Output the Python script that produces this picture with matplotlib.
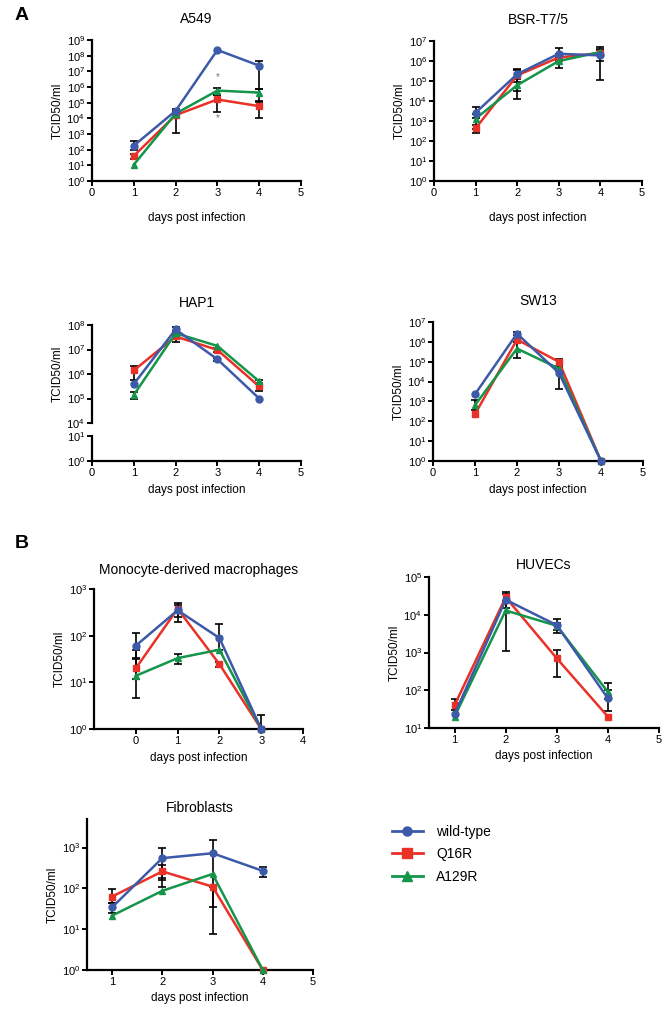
import numpy as np
import matplotlib.pyplot as plt
from matplotlib.lines import Line2D
from matplotlib.ticker import LogFormatterMathtext, NullLocator

plt.rcParams['font.family'] = ['Liberation Sans', 'DejaVu Sans']
plt.rcParams['mathtext.default'] = 'regular'

W, H = 671, 1017

series_names = ['wild-type', 'Q16R', 'A129R']
colors = ['#3c5aa8', '#ea3127', '#14954a']
markers = ['o', 's', '^']

days = [1, 2, 3, 4]
mdm_days = [0, 1, 2, 3]

# values per series: wild-type, Q16R, A129R ; None = no error bar
a549_vals = [[180, 3.0e4, 2.3e8, 2.3e7], [40, 1.6e4, 1.6e5, 6.0e4], [11, 2.0e4, 5.9e5, 4.4e5]]
a549_lo = [[100, 2.5e4, None, 7.4e5], [26, 1.1e3, 2.7e4, 1.1e4], [None, 1.5e4, 3.0e5, 1.1e5]]
a549_hi = [[380, 3.7e4, None, 4.6e7], [55, 3.0e4, 3.0e5, 1.2e5], [None, 2.5e4, 8.5e5, 7.5e5]]

bsr_vals = [[2.6e3, 2.2e5, 2.3e6, 1.9e6], [430, 1.9e5, 1.5e6, 2.5e6], [1.3e3, 6.2e4, 1.0e6, 2.8e6]]
bsr_lo = [[1.4e3, 9e4, 1.4e6, 1.1e5], [260, 3e4, 1e6, 1e6], [420, 1.2e4, 4.7e5, 2e6]]
bsr_hi = [[4.8e3, 4.2e5, 4.5e6, 3.5e6], [600, 3.5e5, 2.2e6, 5.1e6], [2.2e3, 1.2e5, 1.6e6, 3.8e6]]

hap1_vals = [[3.9e5, 6.6e7, 4.0e6, 1.0e5], [1.4e6, 3.4e7, 9.6e6, 3.1e5], [1.4e5, 4.6e7, 1.4e7, 5.0e5]]
hap1_lo = [[None, 4.5e7, 3.4e6, None], [5.5e5, 2.1e7, 8e6, 2.0e5], [9.5e4, 3.5e7, None, 4.2e5]]
hap1_hi = [[None, 8e7, 4.6e6, None], [2.2e6, 4.5e7, 1.1e7, 3.9e5], [1.8e5, 5.5e7, None, 5.8e5]]

sw13_vals = [[2.3e3, 2.6e6, 2.7e4, 1], [230, 1.3e6, 9.8e4, 1], [650, 4.6e5, 4.5e4, 1]]
sw13_lo = [[None, 2.2e6, 4e3, None], [None, 1.0e6, 6e4, None], [350, 1.6e5, 3.5e4, None]]
sw13_hi = [[None, 3.0e6, 5e4, None], [None, 1.6e6, 1.4e5, None], [1.25e3, 1.0e6, 5.5e4, None]]

mdm_vals = [[61, 350, 89, 1], [20, 375, 24.6, 1], [13.8, 33, 50, 1]]
mdm_lo = [[33, 200, 50, 1], [12, 250, 21, None], [4.7, 25, None, None]]
mdm_hi = [[114, 490, 180, 2.0], [32, 450, 27, None], [50, 41, None, None]]

huvec_vals = [[23, 2.5e4, 5.3e3, 61], [40, 2.9e4, 700, 20], [20, 1.3e4, 5.1e3, 90]]
huvec_lo = [[None, 1.55e4, 3.2e3, 28], [30, 2.3e4, 225, None], [None, 1.1e3, 4e3, 60]]
huvec_hi = [[None, 3.6e4, 7.7e3, 155], [58, 3.9e4, 1.18e3, None], [None, 2.2e4, 6.2e3, 100]]

fib_vals = [[34.5, 550, 725, 268], [63, 260, 110, 1], [21.5, 87, 225, 1]]
fib_lo = [[24.5, 160, 34, 195], [44, 107, 7.6, None], [None, None, None, None]]
fib_hi = [[44, 950, 1500, 340], [95, 380, 110, None], [None, 180, None, None]]


def px_rect(left, top, right, bottom):
    ''' Convert a pixel box (origin top-left) into figure fractions. '''
    return [left / W, 1 - bottom / H, (right - left) / W, (bottom - top) / H]


def style_axis(ax, ylim, yticks, xlim, xticks, show_x=True):
    ax.set_yscale('log')
    ax.set_ylim(*ylim)
    ax.set_yticks(yticks)
    ax.yaxis.set_major_formatter(LogFormatterMathtext())
    ax.yaxis.set_minor_locator(NullLocator())
    ax.set_xlim(*xlim)
    for side in ('top', 'right'):
        ax.spines[side].set_visible(False)
    for side in ('left', 'bottom'):
        ax.spines[side].set_linewidth(1.6)
    ax.tick_params(width=1.4, length=3.5, labelsize=8, pad=1.5)
    if show_x:
        ax.set_xticks(xticks)
    else:
        ax.spines['bottom'].set_visible(False)
        ax.set_xticks([])


def plot_series(ax, x, vals, lo, hi):
    for i in [2, 1, 0]:
        v = np.array(vals[i], dtype=float)
        l = np.array([np.nan if a is None else a for a in lo[i]], dtype=float)
        h = np.array([np.nan if a is None else a for a in hi[i]], dtype=float)
        ax.errorbar(x, v, yerr=[v - l, h - v], fmt='none', ecolor='black',
                    elinewidth=1.2, capsize=3, capthick=1.2, zorder=2, clip_on=False)
        ax.plot(x, v, color=colors[i], marker=markers[i], ms=5, lw=1.8,
                zorder=3 + i * 0.1 if i else 3.5, clip_on=False)


def label_panel(ax, title, pad, xlabelpad=4):
    ax.set_title(title, fontsize=10, pad=pad)
    ax.set_ylabel('TCID50/ml', fontsize=8.5, labelpad=2)
    ax.set_xlabel('days post infection', fontsize=8.5, labelpad=xlabelpad)


def main():
    fig = plt.figure(figsize=(W / 100, H / 100), dpi=100)

    # A549
    ax = fig.add_axes(px_rect(92, 40, 301, 181))
    plot_series(ax, days, a549_vals, a549_lo, a549_hi)
    style_axis(ax, (1, 1e9), [10.0 ** k for k in range(10)], (0, 5), range(6))
    label_panel(ax, 'A549', 12, xlabelpad=10)
    ax.text(3, 4e6, '*', color='0.45', fontsize=7, ha='center', va='center')
    ax.text(3, 1e4, '*', color='0.45', fontsize=7, ha='center', va='center')

    # BSR-T7/5
    ax = fig.add_axes(px_rect(434, 41, 642, 181))
    plot_series(ax, days, bsr_vals, bsr_lo, bsr_hi)
    style_axis(ax, (1, 1e7), [10.0 ** k for k in range(8)], (0, 5), range(6))
    label_panel(ax, 'BSR-T7/5', 12, xlabelpad=10)

    # HAP1 with broken y axis
    ax_top = fig.add_axes(px_rect(92, 325, 301, 423))
    ax_bot = fig.add_axes(px_rect(92, 436, 301, 461))
    plot_series(ax_top, days, hap1_vals, hap1_lo, hap1_hi)
    style_axis(ax_top, (1e4, 1e8), [10.0 ** k for k in range(4, 9)], (0, 5), range(6), show_x=False)
    style_axis(ax_bot, (1, 10), [1, 10], (0, 5), range(6))
    ax_top.set_title('HAP1', fontsize=10, pad=13)
    ax_top.set_ylabel('TCID50/ml', fontsize=8.5, labelpad=2)
    ax_bot.set_xlabel('days post infection', fontsize=8.5, labelpad=4)

    # SW13
    ax = fig.add_axes(px_rect(433, 322, 643, 461))
    plot_series(ax, days, sw13_vals, sw13_lo, sw13_hi)
    style_axis(ax, (1, 1e7), [10.0 ** k for k in range(8)], (0, 5), range(6))
    label_panel(ax, 'SW13', 12)

    # Monocyte-derived macrophages
    ax = fig.add_axes(px_rect(94, 589, 303, 729))
    plot_series(ax, mdm_days, mdm_vals, mdm_lo, mdm_hi)
    style_axis(ax, (1, 1e3), [1, 10, 100, 1000], (-1, 4), range(5))
    label_panel(ax, 'Monocyte-derived macrophages', 11)

    # HUVECs
    ax = fig.add_axes(px_rect(429, 577, 659, 728))
    plot_series(ax, days, huvec_vals, huvec_lo, huvec_hi)
    style_axis(ax, (10, 1e5), [10.0 ** k for k in range(1, 6)], (0.5, 5), range(1, 6))
    label_panel(ax, 'HUVECs', 6)

    # Fibroblasts
    ax = fig.add_axes(px_rect(87, 819, 313, 970))
    plot_series(ax, days, fib_vals, fib_lo, fib_hi)
    style_axis(ax, (1, 5000), [1, 10, 100, 1000], (0.5, 5), range(1, 6))
    label_panel(ax, 'Fibroblasts', 5)

    fig.text(15 / W, 1 - 16 / H, 'A', fontsize=14, fontweight='bold', ha='left', va='center')
    fig.text(15 / W, 1 - 543 / H, 'B', fontsize=14, fontweight='bold', ha='left', va='center')

    handles = [Line2D([], [], color=c, marker=m, lw=2, ms=6.5) for c, m in zip(colors, markers)]
    fig.legend(handles, series_names, loc='upper left', bbox_to_anchor=(392 / W, 1 - 825 / H),
               frameon=False, fontsize=10, handlelength=2.2, handletextpad=1.0,
               labelspacing=0.6, borderpad=0, borderaxespad=0)

    fig.savefig('out.png', dpi=100)


main()
